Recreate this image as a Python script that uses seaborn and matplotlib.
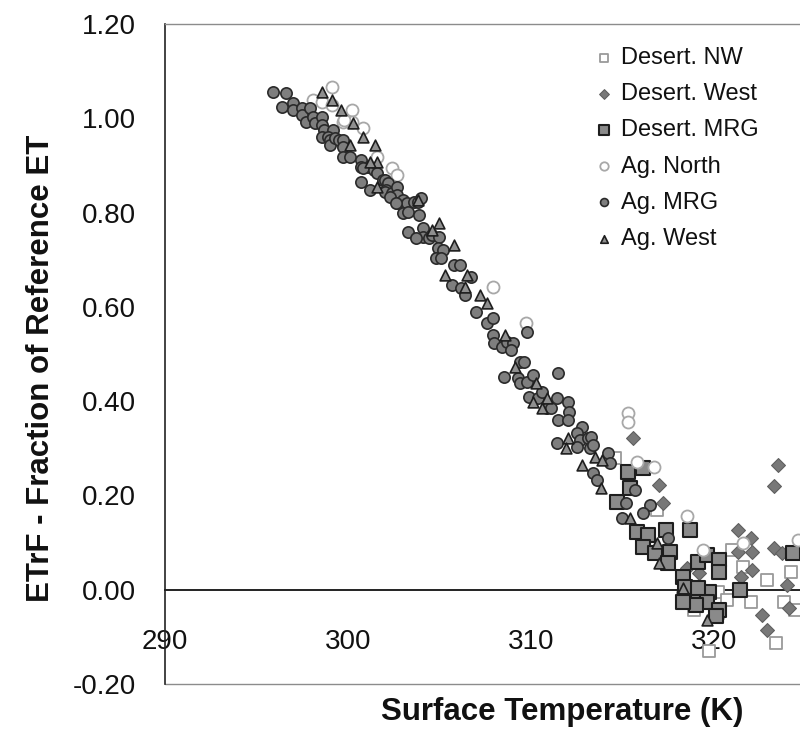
import numpy as np
import pandas as pd
import matplotlib
matplotlib.use("Agg")
import matplotlib.pyplot as plt
import seaborn as sns

# ---------------- data ----------------
series_names = ["Desert. NW", "Desert. West", "Desert. MRG", "Ag. North", "Ag. MRG", "Ag. West"]

desert_nw_t = [314.6, 316.9, 321.0, 321.6, 322.9, 324.2, 318.3, 318.9, 320.2, 320.7, 320.2,
               322.0, 323.8, 324.4, 319.7, 323.4, 319.1]
desert_nw_e = [0.280, 0.170, 0.085, 0.049, 0.021, 0.038, -0.017, -0.042, -0.004, -0.021, -0.049,
               -0.025, -0.025, -0.042, -0.131, -0.112, -0.021]

desert_west_t = [315.6, 317.0, 317.2, 321.3, 322.0, 322.1, 321.3, 323.5, 323.3, 323.3, 323.7,
                 322.1, 321.5, 319.2, 318.5, 324.0, 324.1, 322.6, 322.9]
desert_west_e = [0.322, 0.223, 0.184, 0.127, 0.110, 0.081, 0.081, 0.265, 0.220, 0.089, 0.078,
                 0.042, 0.028, 0.036, 0.047, 0.011, -0.038, -0.053, -0.085]

desert_mrg_t = [315.3, 316.1, 315.4, 314.7, 315.8, 316.4, 316.1, 316.8, 317.4, 318.7, 317.6,
                317.5, 318.3, 318.4, 319.1, 319.6, 320.3, 320.3, 319.1, 319.7, 319.6, 319.0,
                320.3, 320.1, 321.4, 324.3, 318.3, 319.1]
desert_mrg_e = [0.250, 0.259, 0.216, 0.187, 0.123, 0.117, 0.091, 0.078, 0.127, 0.127, 0.081,
                0.057, 0.028, 0.006, 0.059, 0.074, 0.064, 0.038, -0.011, -0.004, -0.025, -0.032,
                -0.042, -0.055, 0.000, 0.078, -0.025, 0.004]

ag_north_t = [299.1, 298.1, 298.6, 299.1, 300.2, 299.7, 300.2, 299.8, 300.8, 301.6, 302.4,
              302.7, 307.9, 309.7, 315.3, 315.3, 315.8, 316.7, 318.5, 319.4, 321.6, 324.6]
ag_north_e = [1.066, 1.039, 1.035, 1.028, 1.018, 0.992, 0.992, 0.996, 0.979, 0.918, 0.895,
              0.880, 0.642, 0.566, 0.375, 0.356, 0.271, 0.261, 0.157, 0.085, 0.100, 0.106]

ag_mrg_t = [295.9, 296.6, 296.4, 297.0, 297.0, 297.5, 297.5, 297.7, 297.9, 298.1, 298.2,
            298.6, 298.6, 298.7, 299.2, 298.6, 298.9, 299.0, 299.0, 299.3, 299.5, 299.7,
            299.7, 299.7, 300.1, 300.7, 300.7, 301.1, 300.8, 301.4, 300.7, 301.2, 301.6,
            301.9, 302.0, 302.2, 302.1, 302.0, 302.4, 302.7, 302.7, 302.3, 302.7, 303.0,
            303.2, 303.6, 303.8, 304.0, 303.0, 303.3, 303.9, 302.6, 303.3, 304.1, 304.1,
            303.7, 304.4, 304.6, 305.0, 304.9, 305.2, 304.8, 305.1, 305.8, 306.1, 306.7,
            305.7, 306.2, 306.4, 307.0, 307.6, 307.9, 309.8, 307.9, 308.0, 308.4, 308.7,
            309.0, 308.9, 309.4, 309.6, 308.5, 309.3, 309.4, 309.8, 310.1, 311.5, 309.9,
            310.4, 310.6, 310.9, 311.1, 311.4, 312.0, 312.1, 311.5, 312.0, 312.8, 312.5,
            312.7, 313.1, 311.4, 312.5, 313.2, 314.2, 313.3, 313.4, 314.3, 313.4, 313.6,
            315.7, 315.2, 316.5, 316.1, 315.0, 317.5]
ag_mrg_e = [1.056, 1.054, 1.024, 1.032, 1.018, 1.022, 1.007, 0.992, 1.022, 1.003, 0.990,
            1.003, 0.986, 0.975, 0.975, 0.960, 0.960, 0.954, 0.943, 0.958, 0.954, 0.954,
            0.939, 0.918, 0.918, 0.912, 0.897, 0.897, 0.895, 0.890, 0.865, 0.848, 0.884,
            0.869, 0.869, 0.863, 0.848, 0.844, 0.842, 0.854, 0.837, 0.833, 0.820, 0.827,
            0.820, 0.823, 0.823, 0.831, 0.799, 0.801, 0.795, 0.820, 0.759, 0.767, 0.748,
            0.746, 0.746, 0.753, 0.748, 0.725, 0.721, 0.704, 0.704, 0.689, 0.689, 0.664,
            0.647, 0.640, 0.625, 0.589, 0.566, 0.577, 0.547, 0.541, 0.524, 0.515, 0.526,
            0.524, 0.509, 0.483, 0.483, 0.452, 0.449, 0.439, 0.441, 0.456, 0.460, 0.409,
            0.407, 0.420, 0.386, 0.386, 0.407, 0.399, 0.377, 0.360, 0.360, 0.346, 0.333,
            0.318, 0.322, 0.312, 0.303, 0.301, 0.290, 0.324, 0.307, 0.269, 0.248, 0.233,
            0.212, 0.184, 0.180, 0.163, 0.153, 0.110]

ag_west_t = [298.6, 299.1, 299.6, 300.3, 300.8, 300.1, 301.5, 301.6, 301.2, 301.6, 303.8,
             305.0, 304.6, 305.8, 305.3, 306.5, 306.4, 307.2, 307.6, 308.6, 309.1, 310.3,
             310.1, 310.9, 310.6, 312.0, 311.9, 313.5, 312.8, 313.9, 313.8, 315.4, 316.9,
             317.0, 318.3, 319.6]
ag_west_e = [1.056, 1.039, 1.018, 0.990, 0.960, 0.943, 0.943, 0.907, 0.907, 0.854, 0.827,
             0.778, 0.763, 0.731, 0.668, 0.668, 0.642, 0.625, 0.608, 0.541, 0.473, 0.439,
             0.399, 0.407, 0.386, 0.322, 0.301, 0.282, 0.265, 0.276, 0.216, 0.153, 0.100,
             0.057, 0.004, -0.064]

x_ticks = [290, 300, 310, 320]
x_tick_labels = ["290", "300", "310", "320"]
y_ticks = [-0.20, 0.00, 0.20, 0.40, 0.60, 0.80, 1.00, 1.20]
y_tick_labels = ["-0.20", "0.00", "0.20", "0.40", "0.60", "0.80", "1.00", "1.20"]
x_label = "Surface Temperature (K)"
y_label = "ETrF - Fraction of Reference ET"

series_t = [desert_nw_t, desert_west_t, desert_mrg_t, ag_north_t, ag_mrg_t, ag_west_t]
series_e = [desert_nw_e, desert_west_e, desert_mrg_e, ag_north_e, ag_mrg_e, ag_west_e]

df = pd.concat(
    [pd.DataFrame({"T": t, "E": e, "site": n}) for n, t, e in zip(series_names, series_t, series_e)],
    ignore_index=True,
)

# ---------------- styling ----------------
sns.set_style("white")
plt.rcParams["font.family"] = ["Liberation Sans", "DejaVu Sans"]
plt.rcParams["axes.unicode_minus"] = False

styles = {
    "Desert. NW":   dict(marker="s", s=80, color="white", edgecolor="#9a9a9a", linewidth=1.3),
    "Desert. West": dict(marker="D", s=50, color="#787878", edgecolor="#606060", linewidth=0.8),
    "Desert. MRG":  dict(marker="s", s=95, color="#8a8a8a", edgecolor="#1e1e1e", linewidth=1.5),
    "Ag. North":    dict(marker="o", s=75, color="white", edgecolor="#a8a8a8", linewidth=1.3),
    "Ag. MRG":      dict(marker="o", s=66, color="#7e7e7e", edgecolor="#2a2a2a", linewidth=1.2),
    "Ag. West":     dict(marker="^", s=60, color="#8f8f8f", edgecolor="#1e1e1e", linewidth=1.2),
}

fig = plt.figure(figsize=(8, 7.3), dpi=100)
ax = fig.add_axes([165 / 800, 1 - 684 / 730, 635 / 800, 660 / 730])

for name in series_names:
    sub = df[df["site"] == name]
    sns.scatterplot(data=sub, x="T", y="E", ax=ax, label=name, zorder=3, **styles[name])

ax.set_xlim(290, 324.7)
ax.set_ylim(-0.20, 1.20)

ax.set_xticks(x_ticks)
ax.set_xticklabels(x_tick_labels)
ax.set_yticks(y_ticks)
ax.set_yticklabels(y_tick_labels)

ax.tick_params(axis="x", direction="out", length=7, width=1.1, pad=21, labelsize=20,
               color="#222222", labelcolor="#111111")
ax.tick_params(axis="y", direction="out", length=7, width=1.1, pad=14, labelsize=20,
               color="#222222", labelcolor="#111111")

ax.spines["bottom"].set_position(("data", 0))
ax.spines["bottom"].set_color("#222222")
ax.spines["bottom"].set_linewidth(1.4)
ax.spines["left"].set_color("#222222")
ax.spines["left"].set_linewidth(1.2)
ax.spines["top"].set_color("#8c8c8c")
ax.spines["top"].set_linewidth(1.0)
ax.spines["right"].set_visible(False)
ax.axhline(-0.20, color="#8c8c8c", lw=1.0, clip_on=False, zorder=2)

ax.set_xlabel(x_label, fontsize=22.5, fontweight="bold", color="#111111")
ax.set_ylabel(y_label, fontsize=22.5, fontweight="bold", color="#111111")
ax.xaxis.set_label_coords((562 - 165) / 635, (684 - 697) / 660)
ax.yaxis.set_label_coords((56 - 165) / 635, (684 - 368) / 660)

handles, labels = ax.get_legend_handles_labels()
leg = ax.legend(handles, labels, loc="upper left", bbox_to_anchor=(595 / 800, 1 - 47 / 730),
                bbox_transform=fig.transFigure, frameon=False, fontsize=17,
                markerscale=0.7, handlelength=0.8, handletextpad=0.3,
                labelspacing=0.6, borderpad=0, borderaxespad=0)
for t in leg.get_texts():
    t.set_color("#111111")

fig.savefig("out.png", dpi=100)
